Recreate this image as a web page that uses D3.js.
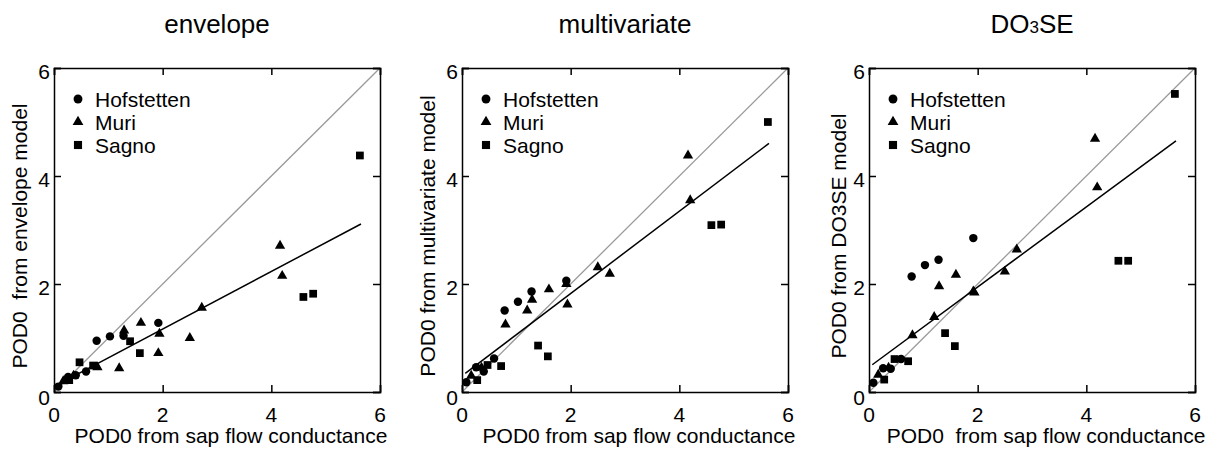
<!DOCTYPE html>
<html>
<head>
<meta charset="utf-8">
<script src="https://cdn.jsdelivr.net/npm/d3@7"></script>
<style>
	body { margin: 0; background: #fff; }
	svg text { font-family: "Liberation Sans", Arial, sans-serif; fill: #000; }
</style>
</head>
<body>
<svg id="chart" width="1222" height="452"></svg>
<script>

// x = POD0 from sap flow conductance (same for every panel)
var hofX  = [0.08, 0.26, 0.40, 0.59, 0.785, 1.03, 1.28, 1.92];
var muriX = [0.17, 0.36, 0.80, 1.20, 1.29, 1.60, 1.92, 1.94, 2.50, 2.72, 4.16, 4.20];
var sagX  = [0.28, 0.47, 0.72, 1.40, 1.58, 4.59, 4.77, 5.63];

// modelled POD0, per panel
var hofEnv  = [0.10, 0.28, 0.31, 0.38, 0.95, 1.03, 1.04, 1.28];
var muriEnv = [0.20, 0.30, 0.46, 0.44, 1.14, 1.28, 0.72, 1.08, 1.00, 1.56, 2.71, 2.15];
var sagEnv  = [0.22, 0.55, 0.49, 0.94, 0.72, 1.76, 1.82, 4.38];

var hofMul  = [0.18, 0.46, 0.38, 0.62, 1.51, 1.67, 1.86, 2.06];
var muriMul = [0.30, 0.45, 1.25, 1.51, 1.71, 1.90, 2.00, 1.62, 2.31, 2.19, 4.38, 3.55];
var sagMul  = [0.22, 0.50, 0.48, 0.86, 0.66, 3.09, 3.10, 5.00];

var hofDo   = [0.17, 0.44, 0.43, 0.61, 2.14, 2.35, 2.45, 2.85];
var muriDo  = [0.32, 0.45, 1.05, 1.39, 1.96, 2.17, 1.86, 1.84, 2.23, 2.64, 4.69, 3.79];
var sagDo   = [0.23, 0.61, 0.57, 1.09, 0.85, 2.43, 2.43, 5.52];

// regression lines: [intercept, slope]
var fitEnv = [0.10, 0.533];
var fitMul = [0.30, 0.762];
var fitDo  = [0.46, 0.742];
var fitRange = [0.06, 5.65];

var sites = ["Hofstetten", "Muri", "Sagno"];
var ticks = [0, 2, 4, 6];

var panels = [
	{ left: 54,  ylabOff: 27, ylab: "POD0  from envelope model", xlab: "POD0 from sap flow conductance",
	  ys: [hofEnv, muriEnv, sagEnv], fit: fitEnv },
	{ left: 462, ylabOff: 27, ylab: "POD0 from multivariate model", xlab: "POD0 from sap flow conductance",
	  ys: [hofMul, muriMul, sagMul], fit: fitMul },
	{ left: 869, ylabOff: 23, ylab: "POD0 from DO3SE model", xlab: "POD0  from sap flow conductance",
	  ys: [hofDo, muriDo, sagDo], fit: fitDo },
];
var titles = ["envelope", "multivariate", "DO3SE"];
var xs = [hofX, muriX, sagX];

var plotTop = 68, width = 326, height = 324, tickLen = 7;

var svg = d3.select("#chart");
var shape = d3.scaleOrdinal(sites, [d3.symbolCircle, d3.symbolTriangle, d3.symbolSquare]);
var size = d3.scaleOrdinal(sites, [56, 46, 60]);

panels.forEach( (p, i) => {

	var x = d3.scaleLinear([0, 6], [0, width]);
	var y = d3.scaleLinear([0, 6], [height, 0]);

	var g = svg.append("g").attr("transform", `translate(${p.left},${plotTop})`);

	// title
	var t = svg.append("text")
		.attr("x", p.left + width/2)
		.attr("y", 33)
		.attr("text-anchor", "middle")
		.style("font-size", "26px");
	if(titles[i] === "DO3SE") {
		t.append("tspan").text("DO");
		t.append("tspan").style("font-size", "17px").text("3");
		t.append("tspan").text("SE");
	} else
		t.text(titles[i]);

	// 1:1 line
	g.append("line")
		.attr("x1", x(0)).attr("y1", y(0))
		.attr("x2", x(6)).attr("y2", y(6))
		.attr("stroke", "#9a9a9a")
		.attr("stroke-width", 1.3);

	// fit line
	g.append("path")
		.attr("fill", "none")
		.attr("stroke", "#000")
		.attr("stroke-width", 1.5)
		.attr("d", d3.line(d => x(d), d => y(p.fit[0] + p.fit[1]*d))(fitRange));

	// axes with inward ticks on all sides
	g.append("g").attr("transform", `translate(0,${height})`)
		.call(d3.axisBottom(x).tickValues(ticks).tickSize(-tickLen).tickFormat(""));
	g.append("g")
		.call(d3.axisTop(x).tickValues(ticks).tickSize(-tickLen).tickFormat(""));
	g.append("g")
		.call(d3.axisLeft(y).tickValues(ticks).tickSize(-tickLen).tickFormat(""));
	g.append("g").attr("transform", `translate(${width},0)`)
		.call(d3.axisRight(y).tickValues(ticks).tickSize(-tickLen).tickFormat(""));
	g.selectAll(".domain, .tick line").attr("stroke", "#000").attr("stroke-width", 1.5);

	g.selectAll(".xtl")
		.data(ticks)
		.join("text")
		.attr("class", "xtl")
		.attr("x", d => x(d))
		.attr("y", height + 30)
		.attr("text-anchor", "middle")
		.style("font-size", "21px")
		.text(d => d);

	g.selectAll(".ytl")
		.data(ticks)
		.join("text")
		.attr("class", "ytl")
		.attr("x", -4)
		.attr("y", d => y(d) + (d === 0 ? 13 : 11))
		.attr("text-anchor", "end")
		.style("font-size", "21px")
		.text(d => d);

	// axis labels
	g.append("text")
		.attr("x", width/2 + 14)
		.attr("y", height + 51)
		.attr("text-anchor", "middle")
		.style("font-size", "21px")
		.style("white-space", "pre")
		.text(p.xlab);

	g.append("text")
		.attr("transform", `translate(${-p.ylabOff},${height/2 + 6}) rotate(-90)`)
		.attr("text-anchor", "middle")
		.style("font-size", "21px")
		.style("white-space", "pre")
		.text(p.ylab);

	// points
	sites.forEach( (s, k) => {
		g.selectAll(".pt" + k)
			.data(xs[k].map((d, j) => [d, p.ys[k][j]]))
			.join("path")
			.attr("class", "pt" + k)
			.attr("transform", d => `translate(${x(d[0])},${y(d[1])})`)
			.attr("d", d3.symbol(shape(s), size(s)))
			.attr("fill", "#000");
	});

	// legend
	var leg = g.selectAll(".leg")
		.data(sites)
		.join("g")
		.attr("class", "leg")
		.attr("transform", (d, k) => `translate(24,${31 + k*23})`);
	leg.append("path")
		.attr("d", d => d3.symbol(shape(d), size(d) * 1.1)())
		.attr("fill", "#000");
	leg.append("text")
		.attr("x", 17)
		.attr("y", 8)
		.style("font-size", "21px")
		.text(d => d);

});

</script>
</body>
</html>
